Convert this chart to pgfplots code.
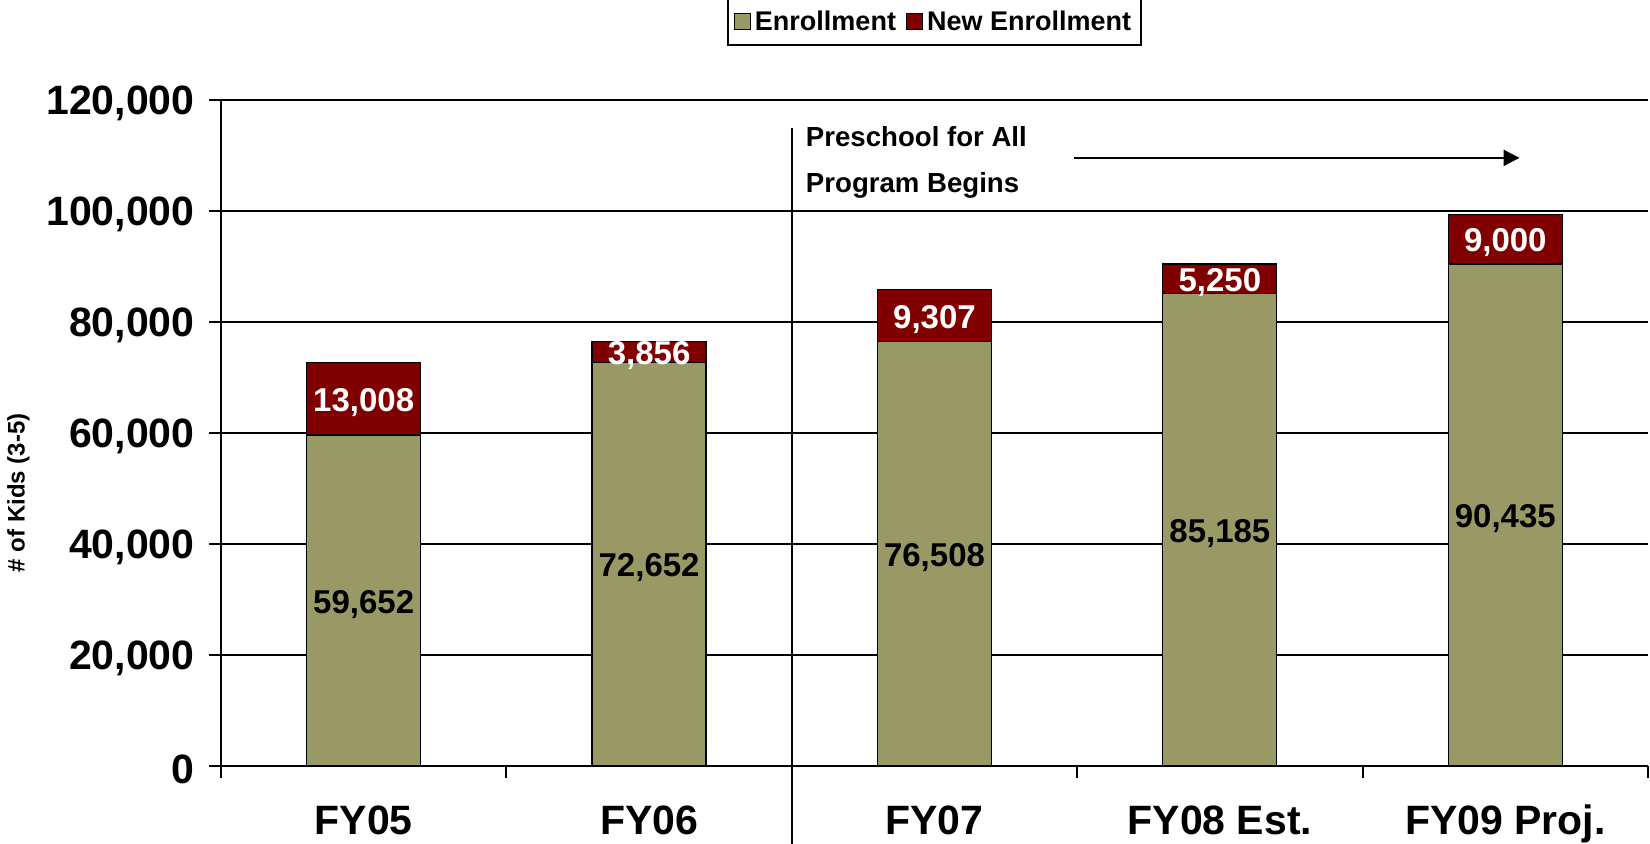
\documentclass[border=0pt]{standalone}
\usepackage{pgfplots}
\usepackage{pgfplotstable}
\pgfplotsset{compat=1.18}
\usepackage{fontspec}
\setmainfont{Liberation Sans}
\usetikzlibrary{arrows.meta}
\definecolor{enrolive}{RGB}{153,153,102}
\definecolor{enrmaroon}{RGB}{128,0,0}
\pgfplotstableread{
x enr new
0 59652 13008
1 72652 3856
2 76508 9307
3 85185 5250
4 90435 9000
}\enrdata
\begin{document}
\begin{tikzpicture}
\path[use as bounding box] (-110.5pt,-39pt) rectangle (714.5pt,383pt);
\begin{axis}[
  at={(0,0)}, anchor=south west,
  scale only axis, width=713.5pt, height=333pt,
  ybar stacked, bar width=57pt,
  xmin=-0.5, xmax=4.5, ymin=0, ymax=120000,
  axis lines=left,
  axis line style={-, line width=1pt, black},
  clip=false,
  xtick={-0.5,0.5,1.5,2.5,3.5,4.5},
  xticklabels={},
  extra x ticks={0,1,2,3,4},
  extra x tick labels={FY05,FY06,FY07,FY08 Est.,FY09 Proj.},
  extra x tick style={major tick length=0pt},
  tick align=outside,
  major tick length=6pt,
  tick style={draw=black, line width=1pt},
  ytick={0,20000,40000,60000,80000,100000,120000},
  scaled y ticks=false,
  ymajorgrids,
  major grid style={black, line width=0.6pt},
  /pgf/number format/assume math mode=true,
  /pgf/number format/fixed,
  /pgf/number format/precision=0,
  /pgf/number format/1000 sep={,},
  yticklabel style={font=\bfseries\fontsize{20.5}{24}\selectfont, xshift=-3.7pt, yshift=-1.5pt},
  xticklabel style={font=\bfseries\fontsize{20.5}{24}\selectfont, anchor=base, yshift=-34.5pt},
  legend style={at={(0.5,1)}, anchor=south, yshift=27pt, legend columns=2, draw=black, line width=0.8pt, font=\bfseries\fontsize{13.5}{16}\selectfont, inner ysep=3.8pt, inner xsep=3pt,
    /tikz/every even column/.append style={column sep=3pt}},
  legend image code/.code={\draw[#1, line width=0.6pt] (0pt,-3.5pt) rectangle (8pt,4.5pt);},
]
\addplot[fill=enrolive, draw=black, line width=0.6pt] table[x=x,y=enr]{\enrdata};
\addplot[fill=enrmaroon, draw=black, line width=0.6pt] table[x=x,y=new]{\enrdata};
\legend{Enrollment, New Enrollment}

\coordinate (e0) at (axis cs:0,29826);
\coordinate (e1) at (axis cs:1,36326);
\coordinate (e2) at (axis cs:2,38254);
\coordinate (e3) at (axis cs:3,42593);
\coordinate (e4) at (axis cs:4,45218);
\coordinate (n0) at (axis cs:0,66156);
\coordinate (n1) at (axis cs:1,74580);
\coordinate (n2) at (axis cs:2,81161);
\coordinate (n3) at (axis cs:3,87810);
\coordinate (n4) at (axis cs:4,94935);

\node[rotate=90, font=\bfseries\fontsize{12}{14}\selectfont] at (rel axis cs:-0.142,0.41) {\# of Kids (3-5)};

\draw[line width=1pt] (axis cs:1.5,115000) -- (axis cs:1.5,-14100);
\draw[line width=1pt, -{Triangle[length=8pt,width=8pt]}] (axis cs:2.49,109573) -- (axis cs:4.05,109573);
\node[anchor=west, font=\bfseries\fontsize{13.8}{16}\selectfont] at (axis cs:1.525,113365) {Preschool for All};
\node[anchor=west, font=\bfseries\fontsize{13.8}{16}\selectfont] at (axis cs:1.525,104645) {Program Begins};
\end{axis}
\begin{scope}[every node/.style={font=\bfseries\fontsize{16.5}{19}\selectfont, yshift=-1.8pt}]
\node at (e0) {59,652};
\node at (e1) {72,652};
\node at (e2) {76,508};
\node at (e3) {85,185};
\node at (e4) {90,435};
\node[white] at (n0) {13,008};
\node[white] at (n1) {3,856};
\node[white] at (n2) {9,307};
\node[white] at (n3) {5,250};
\node[white] at (n4) {9,000};
\end{scope}
\end{tikzpicture}
\end{document}
